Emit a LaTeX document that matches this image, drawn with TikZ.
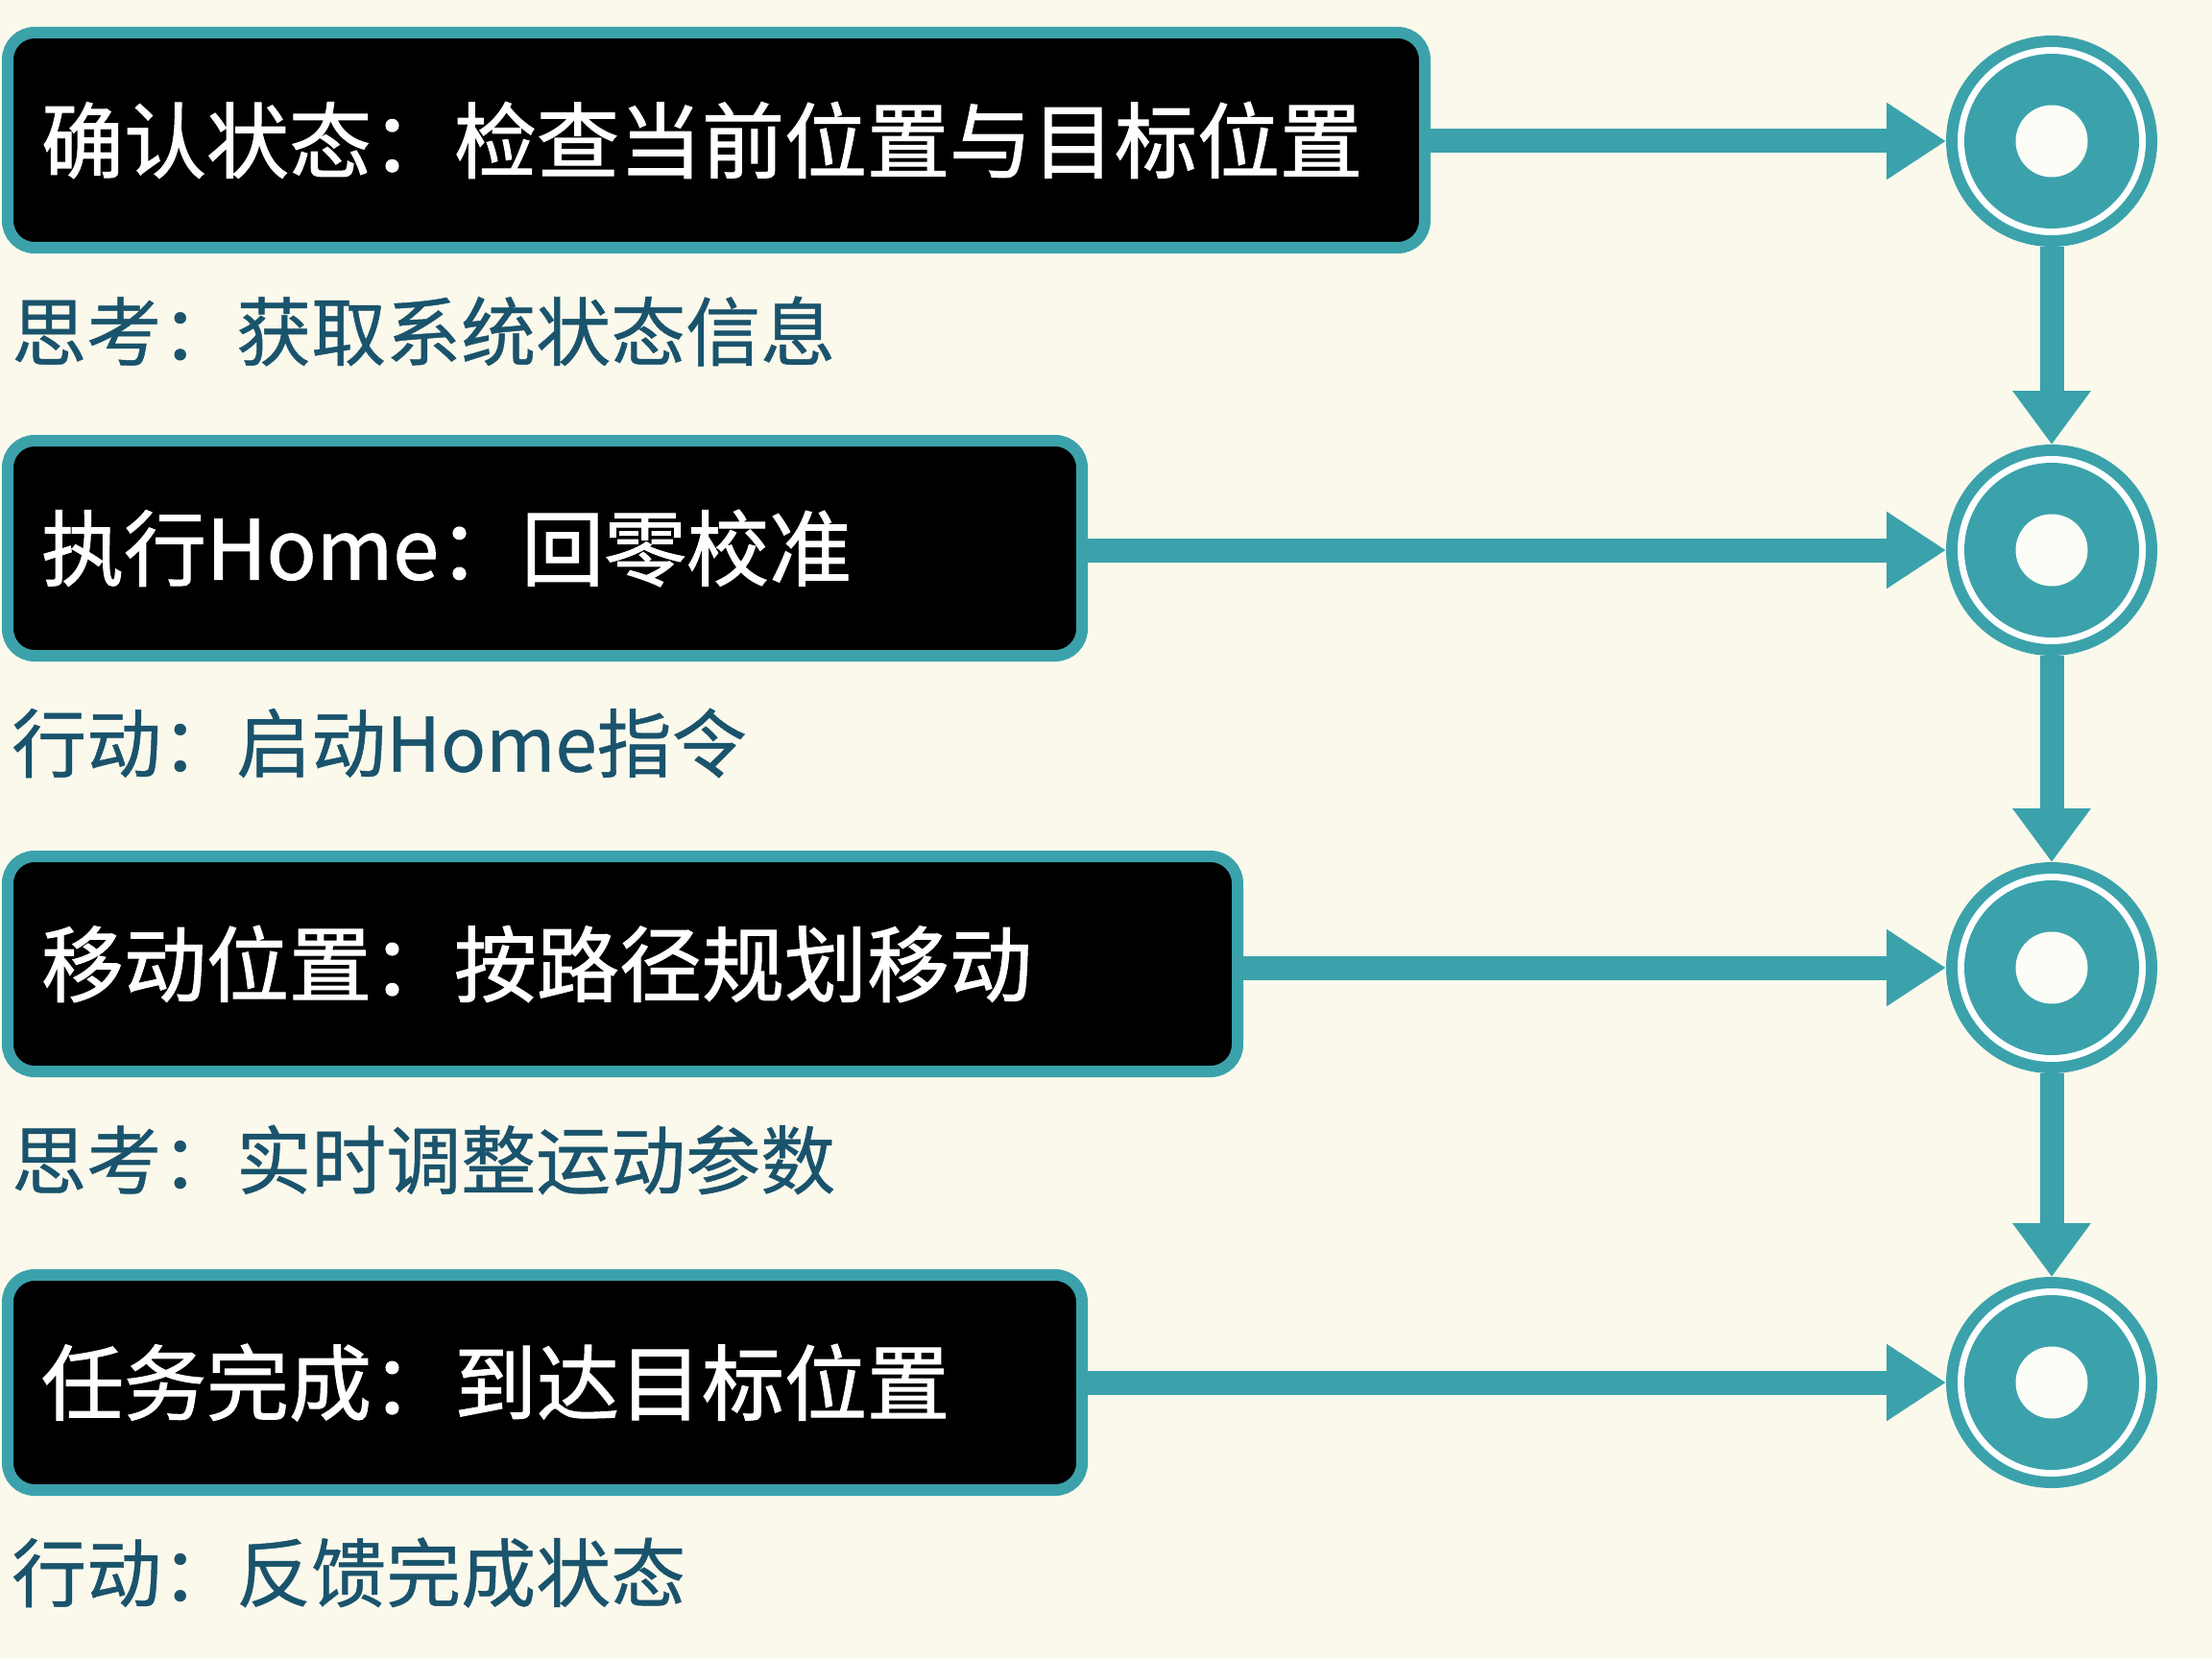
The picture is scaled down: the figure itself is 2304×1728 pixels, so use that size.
\documentclass[tikz,border=0pt]{standalone}
\usepackage{fontspec}
\setmainfont{Noto Sans CJK SC}
\newfontfamily\titlefont[FakeBold=1.2]{Noto Sans CJK SC}
\newfontfamily\subfont[FakeBold=0.6]{Noto Sans CJK SC}
\usetikzlibrary{arrows.meta}
\definecolor{bgc}{HTML}{FBF9EC}
\definecolor{tealc}{HTML}{3BA2AB}
\definecolor{subc}{HTML}{1A536C}
\tikzset{
  x=1pt, y=-1pt,
  stepbox/.style={rectangle, rounded corners=28pt, fill=black, draw=tealc, line width=12pt,
    outer sep=0pt, anchor=west, inner xsep=35pt, inner ysep=0pt, align=left,
    minimum height=224pt, text=white, font=\titlefont\fontsize{86}{100}\selectfont},
  subtxt/.style={anchor=west, inner sep=0pt, text=subc, font=\subfont\fontsize{78}{90}\selectfont},
  dot/.style={circle, fill=tealc, minimum size=220pt, inner sep=0pt, outer sep=0pt},
  harrow/.style={draw=tealc, line width=25pt, -{Triangle[length=62pt,width=76pt]}},
  varrow/.style={draw=tealc, line width=25pt, -{Triangle[length=56pt,width=78pt]}},
}
\newcommand{\rings}[1]{%
  \fill[white] (#1) circle (98);
  \fill[tealc] (#1) circle (91);
  \fill[white!60!bgc] (#1) circle (37.5);
}
\begin{document}
\begin{tikzpicture}
\fill[bgc] (0,0) rectangle (2304,1728);
\useasboundingbox (0,0) rectangle (2304,1728);

\node[stepbox, minimum width=1476pt, text width=1406pt] (b1) at (8,146) {确认状态：检查当前位置与目标位置};
\node[stepbox, minimum width=1119pt, text width=1049pt] (b2) at (8,571) {执行Home：回零校准};
\node[stepbox, minimum width=1281pt, text width=1211pt] (b3) at (8,1004) {移动位置：按路径规划移动};
\node[stepbox, minimum width=1119pt, text width=1049pt] (b4) at (8,1440) {任务完成：到达目标位置};

\node[subtxt] (s1) at (12,345) {思考：获取系统状态信息};
\node[subtxt] (s2) at (12,774) {行动：启动Home指令};
\node[subtxt] (s3) at (12,1208) {思考：实时调整运动参数};
\node[subtxt] (s4) at (12,1638) {行动：反馈完成状态};

\node[dot] (c1) at (2137,147) {};
\node[dot] (c2) at (2137,573) {};
\node[dot] (c3) at (2137,1008) {};
\node[dot] (c4) at (2137,1440) {};
\rings{c1}\rings{c2}\rings{c3}\rings{c4}

\draw[harrow] (b1.east |- c1.west) -- (c1.west);
\draw[harrow] (b2.east |- c2.west) -- (c2.west);
\draw[harrow] (b3.east |- c3.west) -- (c3.west);
\draw[harrow] (b4.east |- c4.west) -- (c4.west);

\draw[varrow] (c1.south) -- (c2.north);
\draw[varrow] (c2.south) -- (c3.north);
\draw[varrow] (c3.south) -- (c4.north);
\end{tikzpicture}
\end{document}
